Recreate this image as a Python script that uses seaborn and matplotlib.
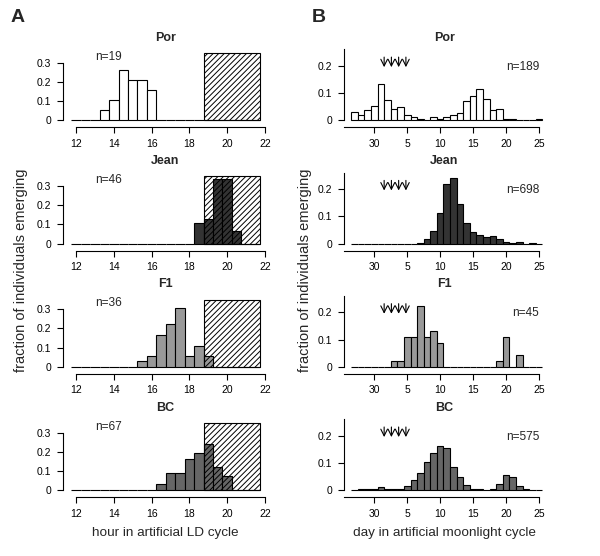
"""Emergence histograms: LD cycle (A) and moonlight cycle (B) for four strains."""

import matplotlib

matplotlib.use("Agg")
import matplotlib.pyplot as plt
import numpy as np
import pandas as pd
import seaborn as sns
from matplotlib.patches import Rectangle
from matplotlib.ticker import FuncFormatter

sns.set_theme(style="ticks")
plt.rcParams["font.family"] = ["Liberation Sans", "DejaVu Sans"]
plt.rcParams["hatch.linewidth"] = 0.7

STRAINS = ["Por", "Jean", "F1", "BC"]
COLORS = ["#ffffff", "#333333", "#999999", "#666666"]

# panel A: hour in LD cycle, half-hour bins centred on these hours
HOURS = [12.0, 12.5, 13.0, 13.5, 14.0, 14.5, 15.0, 15.5, 16.0, 16.5,
         17.0, 17.5, 18.0, 18.5, 19.0, 19.5, 20.0, 20.5, 21.0, 21.5]
LD_N = [19, 46, 36, 67]
LD_FRAC = {
    "Por": [0, 0, 0, 0.053, 0.105, 0.263, 0.211, 0.211, 0.158, 0,
            0, 0, 0, 0, 0, 0, 0, 0, 0, 0],
    "Jean": [0, 0, 0, 0, 0, 0, 0, 0, 0, 0,
             0, 0, 0, 0.109, 0.130, 0.337, 0.337, 0.065, 0, 0],
    "F1": [0, 0, 0, 0, 0, 0, 0, 0.028, 0.056, 0.167,
           0.222, 0.306, 0.056, 0.111, 0.056, 0, 0, 0, 0, 0],
    "BC": [0, 0, 0, 0, 0, 0, 0, 0, 0, 0.030,
           0.090, 0.090, 0.164, 0.194, 0.239, 0.119, 0.075, 0, 0, 0],
}
NIGHT_START, NIGHT_END, NIGHT_TOP = 18.75, 21.75, 0.35

# panel B: day in moonlight cycle (position 0 = day 30), one-day bins
DAYS = list(range(-3, 26))
MOON_N = [189, 698, 45, 575]
MOON_FRAC = {
    "Por": [0.032, 0.021, 0.037, 0.053, 0.132, 0.074, 0.042, 0.048, 0.021, 0.011,
            0.005, 0, 0.011, 0.005, 0.011, 0.021, 0.026, 0.069, 0.090, 0.116,
            0.079, 0.037, 0.042, 0.005, 0.005, 0, 0, 0, 0.005],
    "Jean": [0, 0, 0, 0, 0, 0, 0, 0, 0, 0,
             0.004, 0.016, 0.046, 0.113, 0.220, 0.242, 0.145, 0.077, 0.042, 0.032,
             0.023, 0.027, 0.017, 0.007, 0.001, 0.006, 0, 0.003, 0],
    "F1": [0, 0, 0, 0, 0, 0, 0.022, 0.022, 0.111, 0.111,
           0.222, 0.111, 0.133, 0.089, 0, 0, 0, 0, 0, 0,
           0, 0, 0.022, 0.111, 0, 0.044, 0, 0, 0],
    "BC": [0.002, 0.003, 0.005, 0.003, 0.010, 0.003, 0.005, 0.003, 0.014, 0.037,
           0.063, 0.105, 0.136, 0.162, 0.156, 0.084, 0.048, 0.019, 0.005, 0.005,
           0.002, 0.005, 0.022, 0.054, 0.049, 0.016, 0.006, 0.002, 0],
}
DAY_TICKS = [0, 5, 10, 15, 20, 25]
DAY_LABELS = ["30", "5", "10", "15", "20", "25"]
ARROW_DAYS = [1.5, 2.6, 3.7, 4.8]

W, H = 600, 556
TICK_FS = 7.5
TITLE_FS = 9


def _axes(x_px, y0_px, w_px):
    # y0_px = pixel row of the zero line
    bottom = y0_px + 1.9
    return fig.add_axes([x_px / W, 1 - bottom / H, w_px / W, 73 / H])


def _hist(ax, xs, fracs, edges, color):
    df = pd.DataFrame({"x": xs, "w": fracs})
    sns.histplot(data=df, x="x", weights="w", bins=list(edges), stat="count",
                 color=color, edgecolor="black", linewidth=0.8, alpha=1, ax=ax)


def _style(ax, xbounds, ybounds):
    sns.despine(ax=ax)
    ax.spines["bottom"].set_position(("outward", 3.7))
    ax.spines["bottom"].set_bounds(*xbounds)
    ax.spines["left"].set_bounds(*ybounds)
    for s in ("bottom", "left"):
        ax.spines[s].set_linewidth(0.8)
        ax.spines[s].set_color("black")
    ax.tick_params(length=4.3, width=0.8, pad=4, labelsize=TICK_FS, colors="black")
    ax.yaxis.set_major_formatter(FuncFormatter(lambda v, p: "0" if v == 0 else f"{v:g}"))
    ax.set_xlabel("")
    ax.set_ylabel("")
    ax.set_facecolor("none")


fig = plt.figure(figsize=(W / 100, H / 100), dpi=100)

hour_edges = np.arange(11.75, 21.76, 0.5)
day_edges = np.arange(-3.5, 25.6, 1.0)

for r, name in enumerate(STRAINS):
    y0 = 120.3 + 123.3 * r

    # --- A: LD cycle ---
    ax = _axes(63, y0, 205)
    _hist(ax, HOURS, LD_FRAC[name], hour_edges, COLORS[r])
    ax.add_patch(Rectangle((NIGHT_START, 0), NIGHT_END - NIGHT_START, NIGHT_TOP,
                           fill=False, hatch="//////", edgecolor="black",
                           linewidth=0.8, zorder=5))
    ax.set_xlim(11.31, 22.16)
    ax.set_ylim(-0.01, 0.37)
    ax.set_xticks([12, 14, 16, 18, 20, 22])
    ax.set_yticks([0, 0.1, 0.2, 0.3])
    _style(ax, (12, 22), (0, 0.3))
    ax.set_title(name, fontsize=TITLE_FS, fontweight="bold", pad=6)
    ax.text(13.0, 0.33, f"n={LD_N[r]}", fontsize=8.6, ha="left", va="center")
    if r == 3:
        ax.set_xlabel("hour in artificial LD cycle", fontsize=9.7, labelpad=6)

    # --- B: moonlight cycle ---
    ax = _axes(344, y0, 201)
    _hist(ax, DAYS, MOON_FRAC[name], day_edges, COLORS[r])
    for d in ARROW_DAYS:
        ax.annotate("", xy=(d, 0.195), xytext=(d, 0.232),
                    arrowprops=dict(arrowstyle="->", lw=0.8, color="black",
                                    shrinkA=0, shrinkB=0))
    ax.set_xlim(-4.59, 25.9)
    ax.set_ylim(-0.007, 0.261)
    ax.set_xticks(DAY_TICKS)
    ax.set_xticklabels(DAY_LABELS)
    ax.set_yticks([0, 0.1, 0.2])
    _style(ax, (-4.6, 25), (0, 0.26))
    ax.set_title(name, fontsize=TITLE_FS, fontweight="bold", pad=6)
    ax.text(25, 0.197, f"n={MOON_N[r]}", fontsize=8.6, ha="right", va="center")
    if r == 3:
        ax.set_xlabel("day in artificial moonlight cycle", fontsize=9.7, labelpad=6)

for x_px in (21, 305):
    fig.text(x_px / W, 1 - 270 / H, "fraction of individuals emerging", rotation=90,
             fontsize=10.5, ha="center", va="center")
fig.text(11 / W, 1 - 17 / H, "A", fontsize=14, fontweight="bold", ha="left", va="center")
fig.text(312 / W, 1 - 17 / H, "B", fontsize=14, fontweight="bold", ha="left", va="center")

fig.savefig("out.png", dpi=100, facecolor="white")
